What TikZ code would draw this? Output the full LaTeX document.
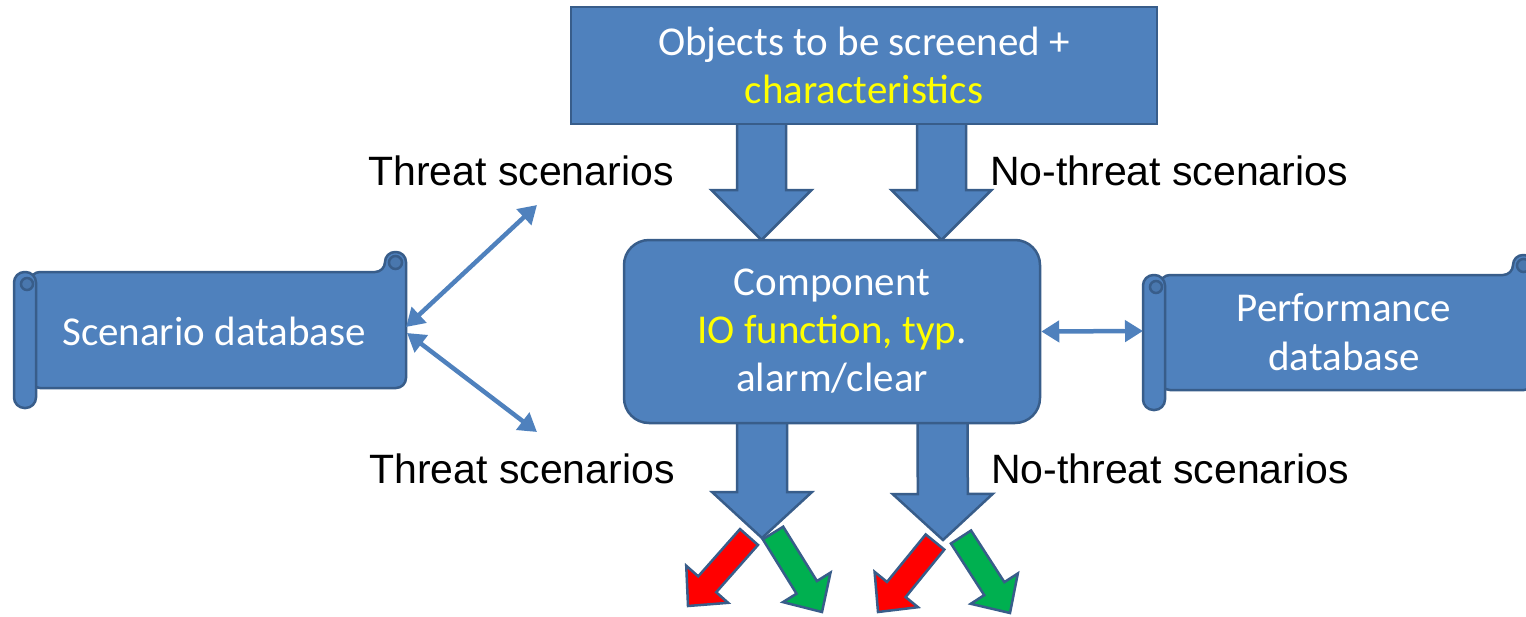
\documentclass[tikz,border=0pt]{standalone}
\usepackage{fontspec}
\setmainfont{Carlito}
\newfontfamily\arialf{Liberation Sans}
\usetikzlibrary{calc,arrows.meta}
\definecolor{pfill}{HTML}{4F81BD}
\definecolor{pline}{HTML}{385D8A}
\definecolor{pyel}{HTML}{FFFF00}
\definecolor{pred}{HTML}{FF0000}
\definecolor{pgreen}{HTML}{00B050}
\newcommand\myblockarrow[6][]{%
  \coordinate (ba-n) at ($(#3)!#6!(#2)$);
  \draw[#1] ($(#2)!#4!90:(#3)$) -- ($(ba-n)!#4!-90:(#2)$) -- ($(ba-n)!#5!-90:(#2)$) -- (#3) -- ($(ba-n)!#5!90:(#2)$) -- ($(ba-n)!#4!90:(#2)$) -- ($(#2)!#4!-90:(#3)$) -- cycle;}
\tikzset{
 box/.style={draw=pline, fill=pfill, line width=1.25pt, text=white, align=center, inner sep=0pt, font=\fontsize{20.5}{24}\selectfont},
 scrollst/.style={draw=pline, fill=pfill, line width=1.25pt},
 curlst/.style={draw=pline, fill=pfill!92!black, line width=1.25pt},
 lbl/.style={font=\arialf\fontsize{20.5}{24}\selectfont, text=black},
 dbtext/.style={text=white, align=center, font=\fontsize{20.5}{24.5}\selectfont},
 thinarr/.style={draw=pfill, line width=2.25pt, {Triangle[length=9pt,width=10.5pt]}-{Triangle[length=9pt,width=10.5pt]}},
 bluearr/.style={draw=pline, fill=pfill, line width=1.25pt, line join=miter},
 redarr/.style={draw=pline, fill=pred, line width=1.25pt, line join=miter},
 greenarr/.style={draw=pline, fill=pgreen, line width=1.25pt, line join=miter},
}
\begin{document}
\begin{tikzpicture}[x=0.5pt,y=-0.5pt]
\useasboundingbox (0,0) rectangle (1526,616);
\clip (0,0) rectangle (1526,616);

% coordinates for block arrows
\coordinate (a1t) at (761.5,120);
\coordinate (a1h) at (761.5,240);
\coordinate (a2t) at (941.5,120);
\coordinate (a2h) at (941.5,240);
\coordinate (a3t) at (762,420);
\coordinate (a3h) at (762,538);
\coordinate (a4t) at (942.5,420);
\coordinate (a4h) at (943,540);
\coordinate (r1t) at (749,537);
\coordinate (r1h) at (688,606);
\coordinate (g1t) at (773,533);
\coordinate (g1h) at (822,612);
\coordinate (r2t) at (935,542);
\coordinate (r2h) at (878,612);
\coordinate (g2t) at (961,537);
\coordinate (g2h) at (1010,613);

% red / green arrows
\myblockarrow[redarr]{r1t}{r1h}{6pt}{14pt}{14.5pt}
\myblockarrow[greenarr]{g1t}{g1h}{6pt}{14pt}{14.5pt}
\myblockarrow[redarr]{r2t}{r2h}{6pt}{14pt}{14.5pt}
\myblockarrow[greenarr]{g2t}{g2h}{6pt}{14pt}{14.5pt}

% blue block arrows
\myblockarrow[bluearr]{a1t}{a1h}{12.25pt}{25pt}{25pt}
\myblockarrow[bluearr]{a2t}{a2h}{12.25pt}{25pt}{25pt}
\myblockarrow[bluearr]{a3t}{a3h}{12.5pt}{25pt}{23pt}
\myblockarrow[bluearr]{a4t}{a4h}{12.5pt}{25pt}{23pt}

% boxes
\node[box, minimum width=293pt, minimum height=58.5pt] (top) at (864,65.5)
  {Objects to be screened +\\\textcolor{pyel}{characteristics}};
\node[box, rounded corners=12.5pt, minimum width=208pt, minimum height=91.5pt] (comp) at (832,331.5)
  {Component\\\textcolor{pyel}{IO function, typ}.\\alarm/clear};

% scenario database scroll
\draw[scrollst, rounded corners=5pt] (30,272) -- (385,272) -- (385,252) -- (406,252) -- (406,388) -- (30,388) -- cycle;
\draw[curlst] (395.5,262.5) circle[radius=6.5];
\draw[scrollst, rounded corners=5.25pt] (14,272) rectangle (36,408);
\draw[curlst] (27,284) circle[radius=6];

\node[dbtext] (scen) at (214,331) {Scenario database};

% performance database scroll
\draw[scrollst, rounded corners=5pt] (1160,275) -- (1513,275) -- (1513,255) -- (1534,255) -- (1534,390) -- (1160,390) -- cycle;
\draw[curlst] (1523.5,265.5) circle[radius=6.5];
\draw[scrollst, rounded corners=5.25pt] (1143,275) rectangle (1165,410);
\draw[curlst] (1156,287) circle[radius=6];
\node[dbtext] (perf) at (1344,332) {Performance\\database};

% labels
\node[lbl] (t1) at (521,171) {Threat scenarios};
\node[lbl] (n1) at (1169,171) {No-threat scenarios};
\node[lbl] (t2) at (522,469) {Threat scenarios};
\node[lbl] (n2) at (1170,469) {No-threat scenarios};

% thin double arrows
\coordinate (scE1) at (406,327);
\coordinate (scE2) at (407,333);
\coordinate (ta) at (537,205);
\coordinate (tb) at (537,432);
\coordinate (perfW) at (1143,331);
\draw[thinarr] (scE1) -- (ta);
\draw[thinarr] (scE2) -- (tb);
\draw[thinarr] (comp.east) -- (perfW);
\end{tikzpicture}
\end{document}
